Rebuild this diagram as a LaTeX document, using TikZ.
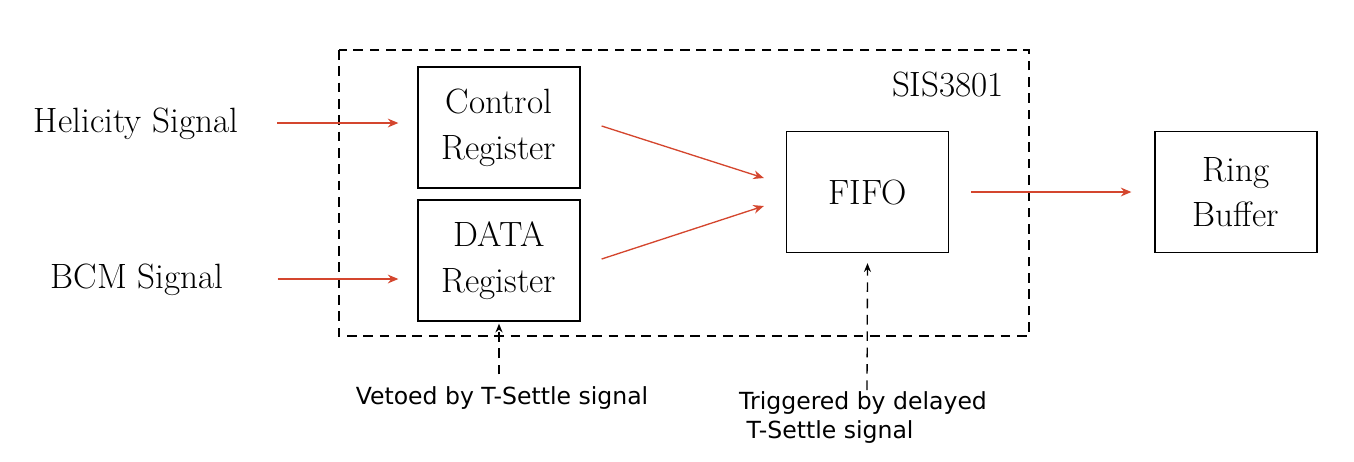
\documentclass[tikz,border=0pt]{standalone}
\usepackage{fontspec}
\newfontfamily\notefont{DejaVu Sans}
\usetikzlibrary{shapes,arrows.meta}
\definecolor{sigred}{RGB}{212,70,46}

\tikzset{
  block/.style={draw, line width=0.75pt, minimum width=3.24cm, minimum height=2.42cm,
    align=center, font=\fontsize{20}{26}\selectfont},
  sigtext/.style={font=\fontsize{20}{26}\selectfont},
  note/.style={font=\notefont\fontsize{13.4}{16.5}\selectfont},
  sig/.style={draw=sigred, line width=0.75pt, -{Stealth[length=6pt,width=5pt]}, fill=sigred},
  trig/.style={draw, line width=0.75pt, dash pattern=on 5.5pt off 3.8pt, -{Stealth[length=5pt,width=4pt]}}
}

\begin{document}
\begin{tikzpicture}[x=0.02cm, y=-0.02cm]
\useasboundingbox (0,0) rectangle (1354,461);
% module frame
\draw [line width=0.75pt, dash pattern=on 5.5pt off 3.8pt] (339,50) rectangle (1029,336);
\node[sigtext] (sis) at (948,84) {SIS3801};
% blocks
\node[block] (ctrl) at (499,127.5) {Control\\Register};
\node[block] (data) at (499,260.5) {DATA\\Register};
\node[block] (fifo) at (867.5,192) {FIFO};
\node[block] (ring) at (1236,192) {Ring\\Buffer};
% inputs
\node[sigtext] (hel) at (136,124) {Helicity Signal};
\node[sigtext] (bcm) at (137,280) {BCM Signal};
\draw [sig] ([shift={(33,-1)}]hel.east) -- ([shift={(-19,-1)}]hel.east -| ctrl.west);
\draw [sig] ([shift={(48,-1)}]bcm.east) -- ([shift={(-19,-1)}]bcm.east -| data.west);
% into the fifo and out
\draw [sig] ([shift={(21,-1.5)}]ctrl.east) -- ([shift={(-22,-14)}]fifo.west);
\draw [sig] ([shift={(21,-1.5)}]data.east) -- ([shift={(-22,14)}]fifo.west);
\draw [sig] ([shift={(22,0)}]fifo.east) -- ([shift={(-23,0)}]ring.west);
% timing signals
\node[note] (veto) at (502,398) {Vetoed by T-Settle signal};
\node[note, align=left, anchor=west] (trg) at (733,417) {Triggered by delayed\\\ T-Settle signal};
\draw [trig] ([shift={(0,-6)}]veto.north -| data.south) -- ([shift={(0,2)}]data.south);
\draw [trig] (867,390) -- ([shift={(0,10)}]fifo.south);
\end{tikzpicture}
\end{document}
